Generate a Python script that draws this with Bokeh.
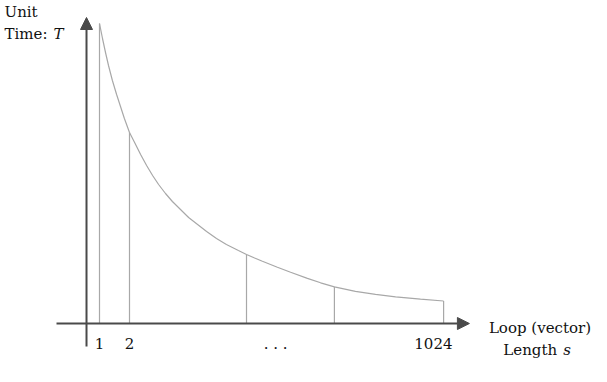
from bokeh.plotting import figure
from bokeh.models import Range1d, Arrow, NormalHead
from bokeh.core.properties import value
from bokeh.embed import file_html
from bokeh.resources import INLINE

# Curve: position along the loop-length axis vs unit time T
curve_s = [1.0, 1.1, 1.2, 1.3, 1.43, 1.57, 1.7, 1.83, 2.0, 2.17, 2.37, 2.57, 2.77, 2.97,
           3.2, 3.43, 3.7, 3.97, 4.27, 4.57, 4.9, 5.23, 5.63, 5.9, 6.17, 6.43, 6.93, 7.37,
           7.93, 8.37, 8.83, 9.53, 10.2, 10.87, 11.7, 12.47]
curve_t = [3.00, 2.85, 2.71, 2.58, 2.43, 2.29, 2.17, 2.05, 1.91, 1.81, 1.69, 1.58, 1.48, 1.39,
           1.30, 1.22, 1.14, 1.06, 0.99, 0.92, 0.85, 0.79, 0.73, 0.69, 0.655, 0.623, 0.563, 0.513,
           0.451, 0.407, 0.367, 0.322, 0.291, 0.267, 0.244, 0.225]

# Vertical drop lines
bar_s = [1.0, 2.0, 5.9, 8.83, 12.47]
bar_t = [3.00, 1.91, 0.69, 0.367, 0.225]

# Tick labels under the horizontal axis
tick_s = [1.0, 2.0, 6.87, 12.13]
tick_labels = ["1", "2", ". . .", "1024"]

FONT = value("DejaVu Serif")
AXIS_COLOR = "#4a4a4a"
LINE_COLOR = "#a8a8a8"
TEXT_COLOR = "#111111"

p = figure(width=607, height=382, output_backend="svg", toolbar_location=None,
           x_range=Range1d(-2.3, 17.933), y_range=Range1d(-0.59, 3.23),
           min_border=0, outline_line_color=None)
p.xaxis.visible = False
p.yaxis.visible = False
p.xgrid.visible = False
p.ygrid.visible = False
p.background_fill_color = "white"
p.border_fill_color = "white"

# drop lines and curve
p.segment(x0=bar_s, y0=[0] * len(bar_s), x1=bar_s, y1=bar_t,
          line_color=LINE_COLOR, line_width=1.2)
p.line(curve_s, curve_t, line_color=LINE_COLOR, line_width=1.2)

# axes with arrowheads
p.add_layout(Arrow(end=NormalHead(size=12, fill_color=AXIS_COLOR, line_color=AXIS_COLOR),
                   x_start=-0.433, y_start=0, x_end=13.33, y_end=0,
                   line_color=AXIS_COLOR, line_width=2))
p.add_layout(Arrow(end=NormalHead(size=12, fill_color=AXIS_COLOR, line_color=AXIS_COLOR),
                   x_start=0.567, y_start=-0.23, x_end=0.567, y_end=3.06,
                   line_color=AXIS_COLOR, line_width=2))

# tick labels
p.text(x=tick_s, y=[-0.20] * len(tick_s), text=tick_labels, text_font=FONT,
       text_font_size="15px", text_align="center", text_baseline="alphabetic",
       text_color=TEXT_COLOR)

# axis titles
p.text(x=[-2.167, -2.167], y=[3.113, 2.897], text=["Unit", "Time:"], text_font=FONT,
       text_font_size="15px", text_align="left", text_baseline="alphabetic",
       text_color=TEXT_COLOR)
p.text(x=[-0.533], y=[2.897], text=["T"], text_font=FONT, text_font_style="italic",
       text_font_size="15px", text_align="left", text_baseline="alphabetic",
       text_color=TEXT_COLOR)
p.text(x=[13.98, 14.46], y=[-0.043, -0.26], text=["Loop (vector)", "Length"], text_font=FONT,
       text_font_size="15px", text_align="left", text_baseline="alphabetic",
       text_color=TEXT_COLOR)
p.text(x=[16.46], y=[-0.26], text=["s"], text_font=FONT, text_font_style="italic",
       text_font_size="15px", text_align="left", text_baseline="alphabetic",
       text_color=TEXT_COLOR)

open("out.html", "w").write(file_html(p, INLINE))
